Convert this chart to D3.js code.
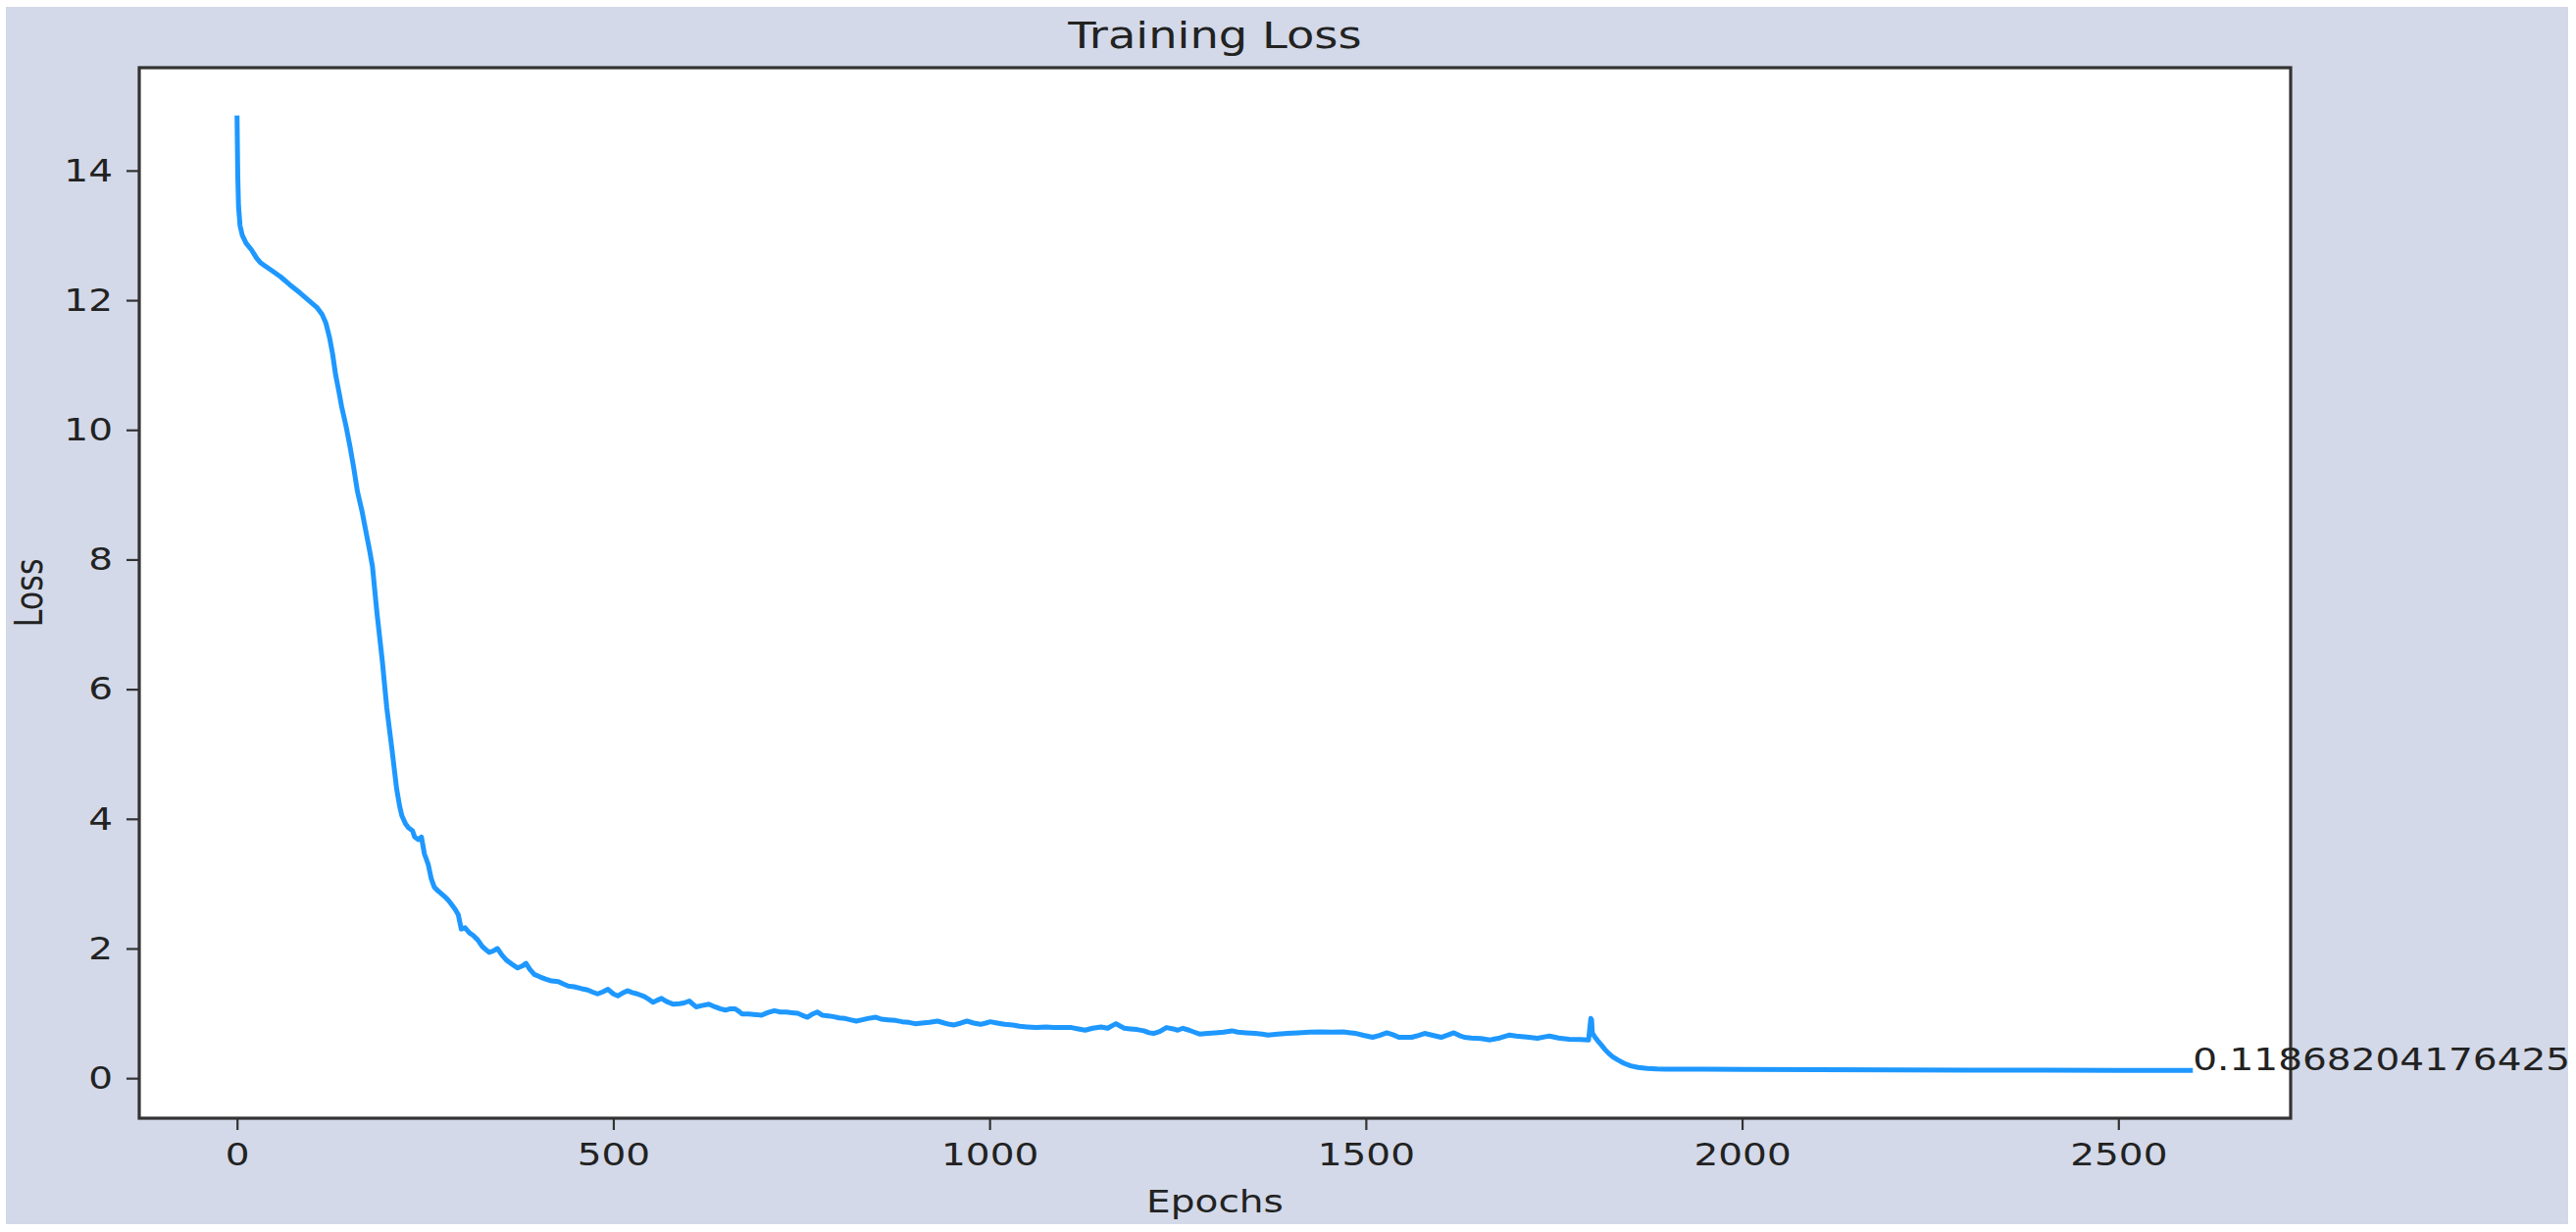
<!DOCTYPE html>
<html><head><meta charset="utf-8">
<script src="https://cdn.jsdelivr.net/npm/d3@7"></script>
<style>html,body{margin:0;padding:0;background:#fff;} svg{display:block;}</style>
</head><body>
<svg id="chart" width="2627" height="1256"></svg>
<script>
// ---- data ----
const epochs = [0,1,2,4,7,12,19,26,31,37,47,58,70,84,95,106,113,118,123,127,131,136,139,145,150,155,160,166,171,176,180,186,193,199,206,212,216,219,224,228,233,236,241,245,249,254,258,262,266,270,276,281,285,290,294,298,303,309,314,320,326,331,335,340,346,352,358,365,373,379,384,389,395,403,410,418,427,434,440,448,458,466,472,479,486,493,500,506,512,519,525,532,541,548,553,558,564,571,580,588,594,601,606,610,618,627,635,642,649,656,662,667,671,680,690,697,705,714,722,730,737,745,751,758,765,771,778,786,792,800,808,815,823,831,838,849,856,865,875,884,893,901,910,920,931,940,947,953,962,970,979,988,995,1001,1010,1020,1031,1040,1050,1062,1075,1085,1095,1109,1118,1127,1137,1148,1157,1163,1168,1174,1179,1187,1196,1205,1212,1218,1226,1235,1244,1250,1257,1265,1272,1279,1290,1300,1311,1322,1330,1341,1353,1362,1370,1383,1396,1410,1425,1440,1455,1470,1480,1487,1497,1509,1518,1528,1536,1544,1553,1561,1570,1578,1589,1600,1610,1617,1624,1631,1640,1653,1665,1678,1691,1700,1717,1728,1739,1744,1756,1770,1785,1796,1799,1800,1801,1804,1808,1813,1818,1822,1828,1835,1843,1852,1862,1874,1887,1900,1950,2000,2100,2200,2300,2400,2500,2599];
const losses = [14.85,13.9,13.45,13.15,13.0,12.88,12.78,12.65,12.58,12.53,12.45,12.36,12.24,12.11,12.0,11.89,11.78,11.65,11.42,11.17,10.85,10.55,10.36,10.05,9.75,9.42,9.05,8.75,8.45,8.15,7.89,7.17,6.44,5.71,5.06,4.47,4.2,4.05,3.92,3.86,3.82,3.72,3.68,3.72,3.46,3.3,3.08,2.95,2.9,2.86,2.8,2.74,2.68,2.6,2.52,2.3,2.32,2.24,2.2,2.13,2.03,1.98,1.94,1.96,2.0,1.9,1.82,1.76,1.7,1.73,1.77,1.68,1.6,1.56,1.53,1.5,1.49,1.45,1.42,1.41,1.38,1.36,1.33,1.3,1.33,1.37,1.3,1.27,1.31,1.35,1.32,1.3,1.26,1.21,1.17,1.2,1.23,1.18,1.14,1.15,1.16,1.19,1.14,1.1,1.12,1.14,1.1,1.07,1.05,1.07,1.07,1.03,0.99,0.99,0.98,0.97,1.01,1.04,1.02,1.02,1.01,1.0,0.97,0.94,0.99,1.02,0.97,0.96,0.95,0.93,0.92,0.9,0.88,0.9,0.92,0.94,0.91,0.9,0.89,0.87,0.86,0.84,0.85,0.86,0.88,0.85,0.83,0.82,0.85,0.88,0.85,0.83,0.85,0.87,0.85,0.83,0.82,0.8,0.79,0.78,0.79,0.78,0.78,0.78,0.76,0.74,0.77,0.79,0.77,0.81,0.84,0.8,0.77,0.76,0.75,0.73,0.7,0.69,0.72,0.78,0.76,0.74,0.77,0.74,0.71,0.68,0.69,0.7,0.71,0.73,0.71,0.7,0.69,0.68,0.665,0.68,0.69,0.7,0.71,0.715,0.71,0.715,0.7,0.69,0.66,0.63,0.66,0.7,0.67,0.63,0.63,0.63,0.66,0.69,0.66,0.63,0.67,0.7,0.66,0.63,0.62,0.61,0.59,0.62,0.665,0.65,0.63,0.615,0.64,0.65,0.62,0.6,0.595,0.59,0.92,0.9,0.7,0.64,0.58,0.51,0.44,0.39,0.33,0.28,0.23,0.19,0.165,0.15,0.142,0.14,0.137,0.135,0.131,0.127,0.124,0.122,0.12,0.11868204176425];
const xTickValues = [0, 500, 1000, 1500, 2000, 2500];
const yTickValues = [0, 2, 4, 6, 8, 10, 12, 14];
const titleText = "Training Loss";
const xLabelText = "Epochs";
const yLabelText = "Loss";
const finalLabelText = "0.11868204176425";

// ---- layout / style ----
const plot = {left: 142, right: 2336, top: 69, bottom: 1140};
const SX = 1.22;               // horizontal stretch of the reference's text
const FONT = "'DejaVu Sans', sans-serif";
const TICK_FS = 32, TITLE_FS = 38;
const TXT = "#222";

const svg = d3.select('#chart');
svg.append('rect').attr('x', 6).attr('y', 7).attr('width', 2613).attr('height', 1241).attr('fill', '#d3d9e8');
svg.append('rect').attr('x', plot.left).attr('y', plot.top)
  .attr('width', plot.right - plot.left).attr('height', plot.bottom - plot.top).attr('fill', '#fff');

const xe = d3.extent(epochs), ye = d3.extent(losses);
const xp = (xe[1] - xe[0]) * 0.05, yp = (ye[1] - ye[0]) * 0.05;
const x = d3.scaleLinear().domain([xe[0] - xp, xe[1] + xp]).range([plot.left, plot.right]);
const y = d3.scaleLinear().domain([ye[0] - yp, ye[1] + yp]).range([plot.bottom, plot.top]);

// x axis
const gx = svg.append('g').attr('transform', `translate(0,${plot.bottom})`)
  .call(d3.axisBottom(x).tickValues(xTickValues).tickSize(12).tickPadding(13).tickFormat(d3.format('d')));
gx.select('.domain').remove();
gx.selectAll('.tick line').attr('stroke', '#333').attr('stroke-width', 2.2);
gx.selectAll('.tick text').attr('font-family', FONT).attr('font-size', TICK_FS).attr('fill', TXT)
  .attr('transform', `scale(${SX},1)`);

// y axis
const gy = svg.append('g').attr('transform', `translate(${plot.left},0)`)
  .call(d3.axisLeft(y).tickValues(yTickValues).tickSize(13).tickPadding(14).tickFormat(d3.format('d')));
gy.select('.domain').remove();
gy.selectAll('.tick line').attr('stroke', '#333').attr('stroke-width', 2.2);
gy.selectAll('.tick text').attr('font-family', FONT).attr('font-size', TICK_FS).attr('fill', TXT)
  .attr('x', -27 / SX).attr('transform', `scale(${SX},1)`);

// line
const line = d3.line().x((d, i) => x(epochs[i])).y(d => y(d));
svg.append('path').datum(losses).attr('d', line).attr('fill', 'none')
  .attr('stroke', '#1e98ff').attr('stroke-width', 5).attr('stroke-linejoin', 'round').attr('stroke-linecap', 'butt');

// frame
svg.append('rect').attr('x', plot.left).attr('y', plot.top)
  .attr('width', plot.right - plot.left).attr('height', plot.bottom - plot.top)
  .attr('fill', 'none').attr('stroke', '#333').attr('stroke-width', 3.2);

// final value label
const lastI = epochs.length - 1;
svg.append('text').text(finalLabelText)
  .attr('transform', `translate(${x(epochs[lastI])},${y(losses[lastI])}) scale(${SX},1)`)
  .attr('font-family', FONT).attr('font-size', TICK_FS).attr('fill', TXT).attr('text-anchor', 'start');

// title and axis labels
const cx = (plot.left + plot.right) / 2, cy = (plot.top + plot.bottom) / 2;
svg.append('text').text(titleText)
  .attr('transform', `translate(${cx},49) scale(${SX},1)`)
  .attr('font-family', FONT).attr('font-size', TITLE_FS).attr('fill', TXT).attr('text-anchor', 'middle');
svg.append('text').text(xLabelText)
  .attr('transform', `translate(${cx},1236) scale(${SX},1)`)
  .attr('font-family', FONT).attr('font-size', TICK_FS).attr('fill', TXT).attr('text-anchor', 'middle');
svg.append('text').text(yLabelText)
  .attr('transform', `translate(43,${cy}) scale(${SX},1) rotate(-90)`)
  .attr('font-family', FONT).attr('font-size', TICK_FS).attr('fill', TXT).attr('text-anchor', 'middle');
</script>
</body></html>
